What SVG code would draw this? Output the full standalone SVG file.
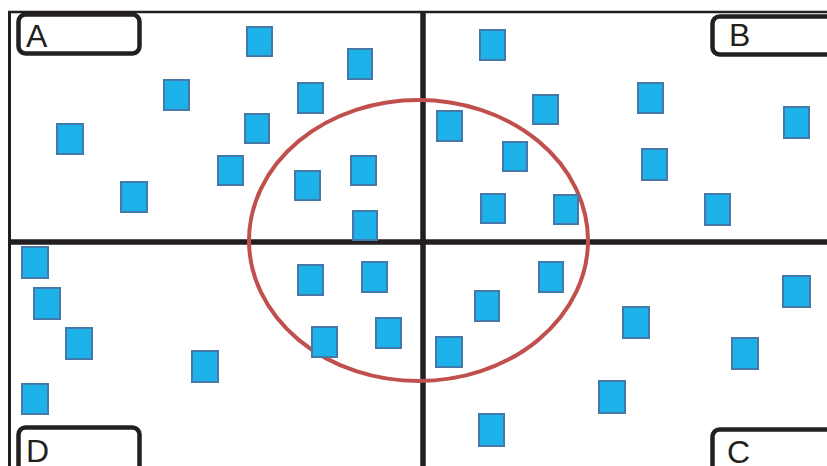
<svg xmlns="http://www.w3.org/2000/svg" width="827" height="466" viewBox="0 0 827 466">
<style>
.sq{fill:#1cb1e8;stroke:#4579a9;stroke-width:2}
.ln{stroke:#231f20;fill:none}
.box{fill:#fff;stroke:#231f20;stroke-width:4.5}
.lbl{font-family:"Liberation Sans",Arial,sans-serif;font-size:32px;fill:#231f20}
</style>
<rect width="827" height="466" fill="#fff"/>
<g id="frame">
<line class="ln" x1="8" y1="12" x2="827" y2="12" stroke-width="2.5"/>
<line class="ln" x1="9.5" y1="11" x2="9.5" y2="466" stroke-width="3"/>
<line class="ln" x1="8" y1="242" x2="827" y2="242" stroke-width="5.5"/>
<line class="ln" x1="423" y1="11" x2="423" y2="466" stroke-width="5.5"/>
</g>
<g id="ellipse">
<ellipse cx="418.5" cy="240.5" rx="169.5" ry="140.5" fill="none" stroke="#c0504d" stroke-width="4"/>
</g>
<g id="squares">
<rect class="sq" x="247" y="27" width="25" height="29"/>
<rect class="sq" x="164" y="80" width="25" height="30"/>
<rect class="sq" x="57" y="124" width="26" height="30"/>
<rect class="sq" x="245" y="114" width="24" height="29"/>
<rect class="sq" x="348" y="49" width="24" height="30"/>
<rect class="sq" x="298" y="83" width="25" height="30"/>
<rect class="sq" x="121" y="182" width="26" height="30"/>
<rect class="sq" x="218" y="156" width="25" height="29"/>
<rect class="sq" x="295" y="171" width="25" height="29"/>
<rect class="sq" x="351" y="156" width="25" height="29"/>
<rect class="sq" x="353" y="211" width="24" height="29"/>
<rect class="sq" x="480" y="30" width="25" height="30"/>
<rect class="sq" x="437" y="111" width="25" height="30"/>
<rect class="sq" x="533" y="95" width="25" height="29"/>
<rect class="sq" x="503" y="142" width="24" height="29"/>
<rect class="sq" x="481" y="194" width="24" height="29"/>
<rect class="sq" x="554" y="195" width="24" height="29"/>
<rect class="sq" x="638" y="83" width="25" height="30"/>
<rect class="sq" x="642" y="149" width="25" height="31"/>
<rect class="sq" x="705" y="194" width="25" height="31"/>
<rect class="sq" x="784" y="107" width="25" height="31"/>
<rect class="sq" x="22" y="247" width="26" height="31"/>
<rect class="sq" x="34" y="288" width="26" height="31"/>
<rect class="sq" x="66" y="328" width="26" height="31"/>
<rect class="sq" x="192" y="351" width="26" height="31"/>
<rect class="sq" x="22" y="384" width="26" height="30"/>
<rect class="sq" x="298" y="265" width="25" height="30"/>
<rect class="sq" x="362" y="262" width="25" height="30"/>
<rect class="sq" x="312" y="327" width="25" height="30"/>
<rect class="sq" x="376" y="318" width="25" height="30"/>
<rect class="sq" x="539" y="262" width="24" height="30"/>
<rect class="sq" x="475" y="291" width="24" height="30"/>
<rect class="sq" x="436" y="337" width="26" height="30"/>
<rect class="sq" x="623" y="307" width="26" height="31"/>
<rect class="sq" x="783" y="276" width="27" height="31"/>
<rect class="sq" x="732" y="338" width="26" height="31"/>
<rect class="sq" x="599" y="381" width="26" height="32"/>
<rect class="sq" x="479" y="414" width="25" height="32"/>
</g>
<g id="label-A">
<rect class="box" x="18.5" y="14.5" width="121" height="39" rx="7"/>
<text class="lbl" x="26" y="47">A</text>
</g>
<g id="label-B">
<rect class="box" x="712.5" y="16.5" width="130" height="38" rx="7"/>
<text class="lbl" x="729" y="46">B</text>
</g>
<g id="label-D">
<rect class="box" x="18.5" y="427.5" width="121" height="60" rx="7"/>
<text class="lbl" x="26" y="462">D</text>
</g>
<g id="label-C">
<rect class="box" x="712.5" y="429.5" width="130" height="60" rx="7"/>
<text class="lbl" x="727" y="463">C</text>
</g>
</svg>
